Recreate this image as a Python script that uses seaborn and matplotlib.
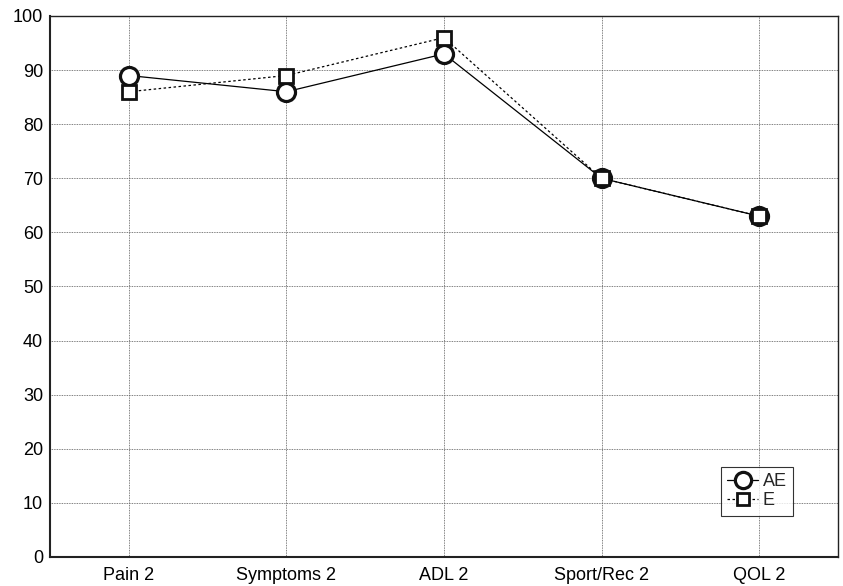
import matplotlib
matplotlib.use("Agg")
import matplotlib.pyplot as plt
import seaborn as sns
import pandas as pd

categories = ["Pain 2", "Symptoms 2", "ADL 2", "Sport/Rec 2", "QOL 2"]
ae_values = [89, 86, 93, 70, 63]
e_values = [86, 89, 96, 70, 63]
y_ticks = [0, 10, 20, 30, 40, 50, 60, 70, 80, 90, 100]

sns.set_theme(style="white")
plt.rcParams['font.family'] = ['Liberation Sans', 'DejaVu Sans']

df = pd.DataFrame({
    "x": list(range(len(categories))) * 2,
    "value": ae_values + e_values,
    "group": ["AE"] * len(categories) + ["E"] * len(categories),
})

fig = plt.figure(figsize=(8.43, 5.86), dpi=100)
ax = fig.add_axes([0.0593, 0.0495, 0.9347, 0.9232])

sns.lineplot(data=df[df.group == "AE"], x="x", y="value", ax=ax, color="black",
             linewidth=0.9, marker="o", markersize=13, markerfacecolor="white",
             markeredgecolor="#111111", markeredgewidth=2.3, label="AE")
sns.lineplot(data=df[df.group == "E"], x="x", y="value", ax=ax, color="black",
             linewidth=0.9, linestyle=(0, (2, 2)), marker="s", markersize=10,
             markerfacecolor="white", markeredgecolor="#111111", markeredgewidth=2.0,
             label="E")

ax.set_xlim(-0.5, 4.5)
ax.set_ylim(0, 100)
ax.set_xticks(range(len(categories)))
ax.set_xticklabels(categories)
ax.set_yticks(y_ticks)
ax.set_xlabel("")
ax.set_ylabel("")
ax.tick_params(axis="both", labelsize=13, colors="black", length=3, direction="in")
ax.tick_params(axis="x", length=0, pad=7)
ax.tick_params(axis="y", pad=5)

ax.grid(True, color="#555555", linestyle=(0, (1, 1)), linewidth=0.6)
ax.set_axisbelow(True)
for s in ax.spines.values():
    s.set_color("#222222")
    s.set_linewidth(1.0)
ax.spines["left"].set_linewidth(1.5)
ax.spines["bottom"].set_linewidth(1.5)

leg = ax.legend(loc="upper left", bbox_to_anchor=(721 / 843, 1 - 467 / 586),
                bbox_transform=fig.transFigure, frameon=True, fancybox=False,
                fontsize=13, handlelength=1.7, handletextpad=0.25,
                borderpad=0.35, labelspacing=0.12, borderaxespad=0,
                markerscale=0.9)
leg.get_frame().set_edgecolor("black")
leg.get_frame().set_linewidth(0.8)

fig.savefig("out.png", dpi=100)
